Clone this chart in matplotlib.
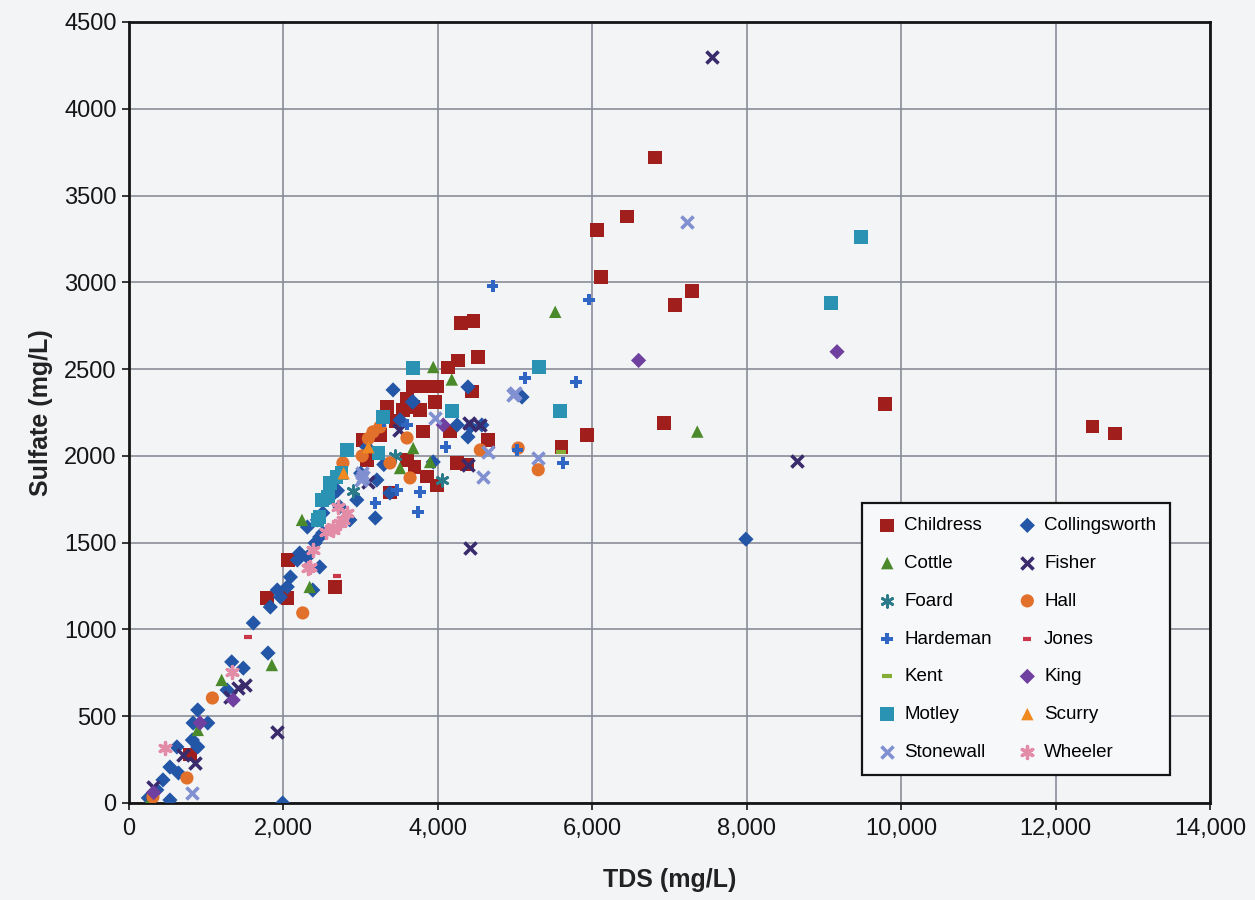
import matplotlib.pyplot as plt
from matplotlib.ticker import FuncFormatter, MultipleLocator

# TDS (mg/L) ve Sulfate (mg/L) degerleri - ilceler
childress_tds = [6810, 6450, 6060, 6110, 7070, 7290, 5600, 5930, 6930, 9790, 12480, 12770,
                 4520, 4300, 4460, 4260, 4130, 4440, 4650, 4250, 4380, 3680, 3990, 3850,
                 3960, 3680, 3810, 4160, 3600, 3700, 3990, 3340, 3550, 3770, 3030, 3380,
                 3860, 3080, 2060, 2670, 1790, 2050, 790, 3450, 3600, 3250]
childress_so4 = [3720, 3380, 3300, 3030, 2870, 2950, 2050, 2120, 2190, 2300, 2170, 2130,
                 2570, 2765, 2777, 2550, 2510, 2370, 2090, 1960, 1950, 2400, 2400, 2400,
                 2310, 2280, 2140, 2140, 1975, 1935, 1830, 2280, 2265, 2265, 2090, 1790,
                 1880, 1975, 1400, 1245, 1180, 1180, 280, 2200, 2330, 2120]

collingsworth_tds = [7990, 1990, 1610, 1800, 1330, 1480, 1270, 890, 830, 1020, 820, 890,
                     620, 530, 640, 440, 360, 250, 530, 1920, 2050, 2090, 2210, 2180,
                     2310, 2410, 2470, 1830, 1960, 2380, 2470, 2440, 3420, 3680, 3510,
                     3080, 3210, 3380, 3190, 2950, 2730, 2510, 2860, 2310, 2510, 4390,
                     5090, 4250, 4420, 4390, 3670, 4570, 3940, 3300, 2600, 2700, 3000]
collingsworth_so4 = [1520, 0, 1037, 864, 813, 777, 651, 536, 461, 461, 363, 323,
                     323, 207, 173, 133, 75, 29, 17, 1227, 1245, 1302, 1440, 1400,
                     1417, 1498, 1533, 1129, 1187, 1227, 1360, 1631, 2380, 2311, 2207,
                     2051, 1861, 1786, 1642, 1746, 1706, 1671, 1631, 1590, 1556, 2397,
                     2339, 2178, 2167, 2109, 2311, 2178, 1965, 1950, 1760, 1800, 1900]

cottle_tds = [5520, 7360, 3940, 4180, 3680, 3900, 2240, 3510, 2340, 1850, 1200, 890, 270]
cottle_so4 = [2830, 2140, 2512, 2440, 2045, 1965, 1631, 1930, 1245, 795, 709, 421, 17]

fisher_tds = [7550, 8650, 4420, 1920, 1410, 1310, 860, 700, 310, 4550, 4400, 4390, 1500, 3500, 3100]
fisher_so4 = [4300, 1970, 1470, 410, 663, 611, 230, 277, 92, 2178, 2190, 1948, 680, 2150, 1850]

foard_tds = [4050, 3450, 2900]
foard_so4 = [1861, 2000, 1800]

hall_tds = [5300, 5040, 4550, 3600, 3640, 2250, 1080, 750, 310, 3160, 3250, 3380, 2770, 3100, 3020]
hall_so4 = [1920, 2045, 2034, 2103, 1873, 1095, 605, 144, 35, 2138, 2167, 1959, 1959, 2100, 2000]

hardeman_tds = [4710, 5960, 5130, 5790, 5620, 5030, 3740, 3770, 3190, 3470, 4100, 3600, 3300]
hardeman_so4 = [2980, 2900, 2450, 2426, 1959, 2034, 1677, 1792, 1729, 1804, 2050, 2180, 2200]

jones_tds = [2690, 1540]
jones_so4 = [1305, 956]

kent_tds = [5600]
kent_so4 = [2020]

king_tds = [6600, 9170, 1350, 920, 320, 4070]
king_so4 = [2550, 2600, 593, 461, 60, 2178]

motley_tds = [9480, 9090, 5310, 5580, 4180, 3680, 3290, 2820, 3230, 2690, 2600, 2580, 2470, 2500, 2440, 2750]
motley_so4 = [3260, 2880, 2512, 2259, 2259, 2506, 2224, 2034, 2017, 1878, 1844, 1763, 1648, 1746, 1631, 1900]

scurry_tds = [2780, 3100]
scurry_so4 = [1900, 2050]

stonewall_tds = [7230, 5000, 4650, 5300, 4580, 3960, 4970, 3020, 820, 3030, 3000]
stonewall_so4 = [3350, 2362, 2022, 1988, 1878, 2218, 2351, 1901, 58, 1878, 1860]

wheeler_tds = [470, 1330, 2320, 2380, 2640, 2730, 2820, 2710, 2770, 2640, 2550, 2340]
wheeler_so4 = [317, 755, 1354, 1458, 1573, 1613, 1671, 1706, 1631, 1590, 1560, 1360]

# seri tanimlari: isim, x, y, marker, renk, boyut, cizgi kalinligi
asterisk = (6, 2, 0)
series = [
    ('Childress', childress_tds, childress_so4, 's', '#A01E1C', 95, 0),
    ('Collingsworth', collingsworth_tds, collingsworth_so4, 'D', '#2356A6', 60, 0),
    ('Cottle', cottle_tds, cottle_so4, '^', '#4A8A2A', 80, 0),
    ('Fisher', fisher_tds, fisher_so4, 'x', '#3A2B6C', 75, 2.6),
    ('Foard', foard_tds, foard_so4, asterisk, '#2A7A8A', 70, 2.0),
    ('Hall', hall_tds, hall_so4, 'o', '#E0702A', 90, 0),
    ('Hardeman', hardeman_tds, hardeman_so4, 'P', '#2F66C4', 70, 0),
    ('Jones', jones_tds, jones_so4, '_', '#C8384A', 40, 3),
    ('Kent', kent_tds, kent_so4, '_', '#86AE36', 60, 3),
    ('King', king_tds, king_so4, 'D', '#7040A0', 60, 0),
    ('Motley', motley_tds, motley_so4, 's', '#2A92B2', 95, 0),
    ('Scurry', scurry_tds, scurry_so4, '^', '#F08A20', 80, 0),
    ('Stonewall', stonewall_tds, stonewall_so4, 'x', '#8090D0', 75, 2.6),
    ('Wheeler', wheeler_tds, wheeler_so4, asterisk, '#E28CA8', 75, 2.4),
]

plt.rcParams['font.family'] = ['Liberation Sans', 'DejaVu Sans']

bg = '#F3F4F6'
fig = plt.figure(figsize=(12.55, 9), dpi=100, facecolor=bg)
ax = fig.add_axes([0.1028, 0.1078, 0.8613, 0.8678], facecolor=bg)

handles = []
for i, (name, x, y, m, c, s, lw) in enumerate(series):
    if lw > 0:
        h = ax.scatter(x, y, marker=m, s=s, color=c, linewidths=lw, label=name, zorder=3 + i * 0.01)
    else:
        h = ax.scatter(x, y, marker=m, s=s, color=c, edgecolors='none', label=name, zorder=3 + i * 0.01)
    handles.append(h)

ax.set_xlim(0, 14000)
ax.set_ylim(0, 4500)
ax.xaxis.set_major_locator(MultipleLocator(2000))
ax.yaxis.set_major_locator(MultipleLocator(500))
ax.xaxis.set_major_formatter(FuncFormatter(lambda v, p: f'{int(v):,}'))
ax.yaxis.set_major_formatter(FuncFormatter(lambda v, p: f'{int(v)}'))
ax.grid(True, color='#8A8C98', linewidth=1.2, zorder=0)
ax.set_axisbelow(True)
for sp in ax.spines.values():
    sp.set_linewidth(2)
    sp.set_color('#151515')
ax.tick_params(axis='both', labelsize=17, colors='#151515', length=5, width=1.2, direction='out')
ax.tick_params(axis='x', pad=6)
ax.tick_params(axis='y', pad=4)

ax.set_xlabel('TDS (mg/L)', fontsize=18, fontweight='bold', color='#222222', labelpad=20)
ax.set_ylabel('Sulfate (mg/L)', fontsize=18, fontweight='bold', color='#222222', labelpad=8)

# legend satir satir (Excel gibi)
order = list(range(0, 14, 2)) + list(range(1, 14, 2))
leg = ax.legend([handles[k] for k in order], [series[k][0] for k in order],
                ncol=2, loc='lower left', bbox_to_anchor=(0.678, 0.036), borderaxespad=0,
                fontsize=13.5, frameon=True, fancybox=False, edgecolor='#151515',
                facecolor='#F7F8FA', framealpha=1, labelspacing=1.1, handletextpad=0.3,
                columnspacing=1.3, handlelength=1.2, borderpad=0.75, scatterpoints=1)
leg.get_frame().set_linewidth(1.6)

plt.savefig('out.png', dpi=100, facecolor=bg)
